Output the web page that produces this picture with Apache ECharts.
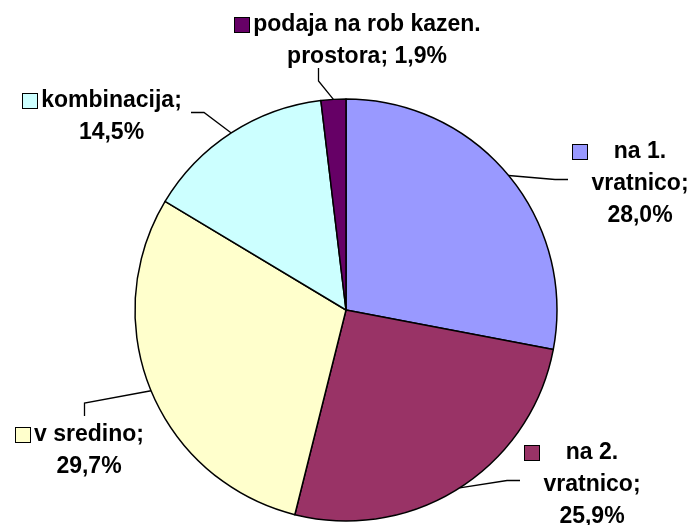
<!DOCTYPE html>
<html>
<head>
<meta charset="utf-8">
<script src="https://cdn.jsdelivr.net/npm/echarts@6/dist/echarts.min.js"></script>
<style>
html, body { margin: 0; padding: 0; background: #fff; }
#chart { width: 695px; height: 525px; }
</style>
</head>
<body>
<div id="chart"></div>
<script>
// kategorije in deleži (%)
const categories = ['na 1. vratnico', 'na 2. vratnico', 'v sredino', 'kombinacija', 'podaja na rob kazen. prostora'];
const values = [28.0, 25.9, 29.7, 14.5, 1.9];
const colors = ['#9999FF', '#993366', '#FFFFCC', '#CCFFFF', '#660066'];

// postavitev oznak (levi zgornji kot), širina za prelom vrstic in stran za povezovalno črto
const labelPos = [[573, 136], [525, 437], [16, 419], [23, 85], [235, 9]];
const wrapWidths = [115, 115, 130, 170, 260];
const guideSide = ['left', 'left', 'top', 'right', 'bottom'];
const guideShift = [0, 0, 4, 0, -40];

const FONT_SIZE = 23;
const FONT = 'bold ' + FONT_SIZE + 'px Arial';
const BOX = 14, GAP = 4, SEG = 13;
const CENTER = [346, 310], RADIUS = 211;

let ctx = document.createElement('canvas').getContext('2d');
ctx.font = FONT;
function measure(s) {
    return ctx.measureText(s).width;
}

function wrap(text, maxW) {
    let words = text.split(' ');
    let lines = [];
    let cur = '';
    words.forEach(function (w) {
        let test = cur ? cur + ' ' + w : w;
        if (cur && measure(test) > maxW) {
            lines.push(cur);
            cur = w;
        } else {
            cur = test;
        }
    });
    if (cur) lines.push(cur);
    return lines;
}

function buildItem(i) {
    let text = categories[i] + '; ' + values[i].toFixed(1).replace('.', ',') + '%';
    let lines = wrap(text, wrapWidths[i]);
    let w = Math.ceil(Math.max.apply(null, lines.map(measure)));
    let str = lines.map(function (l, k) {
        return k === 0 ? '{box|}{gap|}{t|' + l + '}' : '{pad|}{t|' + l + '}';
    }).join('\n');
    return {
        name: categories[i],
        value: values[i],
        itemStyle: {color: colors[i]},
        label: {
            formatter: str,
            rich: {
                box: {width: BOX, height: BOX, backgroundColor: colors[i], borderColor: '#000', borderWidth: 1},
                gap: {width: GAP},
                pad: {width: BOX + GAP},
                t: {
                    width: w, align: 'center', lineHeight: 32,
                    fontSize: FONT_SIZE, fontWeight: 'bold', fontFamily: 'Arial', color: '#000'
                }
            }
        }
    };
}

// povezovalna črta: rob izseka -> koleno -> rob oznake
function guidePoints(i, edge, rect) {
    let p = labelPos[i];
    let x = p[0], y = p[1], w = rect.width, h = rect.height;
    let end, elbow;
    switch (guideSide[i]) {
        case 'left':
            end = [x - 5, y + h / 2 + guideShift[i]];
            elbow = [end[0] - SEG, end[1]];
            break;
        case 'right':
            end = [x + w + 8, y + h / 2 + guideShift[i]];
            elbow = [end[0] + SEG, end[1]];
            break;
        case 'top':
            end = [x + w / 2 + guideShift[i], y - 3];
            elbow = [end[0], end[1] - SEG];
            break;
        default:
            end = [x + w / 2 + guideShift[i], y + h + 4];
            elbow = [end[0], end[1] + SEG];
    }
    return [edge, elbow, end];
}

let chart = echarts.init(document.getElementById('chart'), null, {renderer: 'canvas'});
chart.setOption({
    backgroundColor: '#fff',
    animation: false,
    series: [{
        type: 'pie',
        center: CENTER,
        radius: RADIUS,
        startAngle: 90,
        clockwise: true,
        avoidLabelOverlap: false,
        data: values.map(function (v, i) { return buildItem(i); }),
        itemStyle: {borderColor: '#000', borderWidth: 1.5},
        emphasis: {disabled: true},
        label: {show: true, position: 'outer', alignTo: 'none'},
        labelLine: {
            show: true, length: 10, length2: 12,
            lineStyle: {color: '#000', width: 1.3}
        },
        labelLayout: function (params) {
            let i = params.dataIndex;
            let p = labelPos[i];
            let res = {x: p[0], y: p[1], align: 'left', verticalAlign: 'top'};
            if (params.labelLinePoints && params.labelLinePoints[0]) {
                res.labelLinePoints = guidePoints(i, params.labelLinePoints[0].slice(), params.labelRect);
            }
            return res;
        }
    }]
});
</script>
</body>
</html>
